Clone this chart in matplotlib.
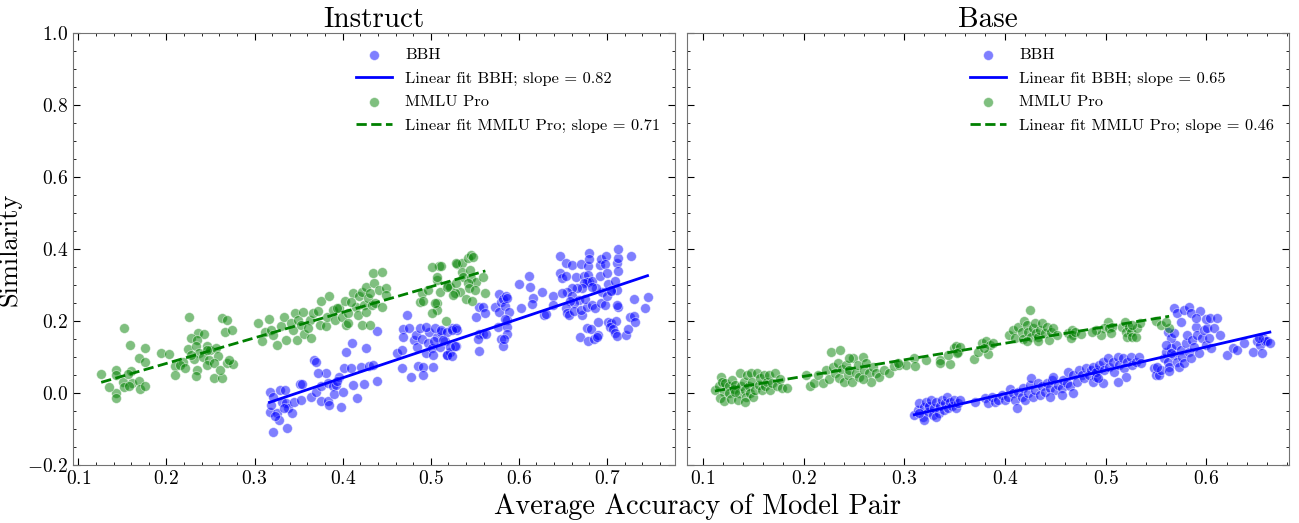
import numpy as np
import matplotlib.pyplot as plt
from matplotlib.ticker import AutoMinorLocator

plt.rcParams['font.family'] = 'cmr10'
plt.rcParams['mathtext.fontset'] = 'cm'
plt.rcParams['axes.formatter.use_mathtext'] = True

# (avg accuracy, similarity) per model pair
inst_mmlu = [
    (0.126, 0.053), (0.152, 0.181), (0.143, 0.064), (0.143, 0.050), (0.160, 0.061),
    (0.159, 0.133), (0.169, 0.098), (0.176, 0.124), (0.176, 0.085), (0.151, 0.031),
    (0.161, 0.027), (0.169, 0.034), (0.170, 0.010), (0.176, 0.019), (0.152, 0.016),
    (0.143, 0.001), (0.143, -0.015), (0.135, 0.016), (0.158, 0.018), (0.156, 0.053),
    (0.194, 0.112), (0.203, 0.108), (0.210, 0.076), (0.210, 0.050), (0.226, 0.210),
    (0.236, 0.166), (0.243, 0.163), (0.228, 0.154), (0.235, 0.147), (0.224, 0.121),
    (0.234, 0.131), (0.237, 0.110), (0.246, 0.131), (0.250, 0.119), (0.256, 0.124),
    (0.231, 0.094), (0.241, 0.101), (0.248, 0.092), (0.259, 0.103), (0.219, 0.087),
    (0.215, 0.078), (0.221, 0.069), (0.235, 0.064), (0.246, 0.078), (0.254, 0.082),
    (0.234, 0.047), (0.254, 0.041), (0.263, 0.041), (0.261, 0.064), (0.269, 0.082),
    (0.276, 0.081), (0.271, 0.092), (0.263, 0.207), (0.269, 0.203), (0.266, 0.170),
    (0.275, 0.175), (0.246, 0.119), (0.228, 0.106),
    (0.304, 0.195), (0.316, 0.206), (0.312, 0.170), (0.309, 0.143), (0.319, 0.175),
    (0.321, 0.161), (0.326, 0.133), (0.330, 0.186), (0.333, 0.210), (0.336, 0.147),
    (0.341, 0.195), (0.344, 0.175), (0.346, 0.221), (0.349, 0.203), (0.348, 0.147),
    (0.353, 0.189), (0.355, 0.226), (0.356, 0.164), (0.363, 0.203), (0.364, 0.152),
    (0.361, 0.180), (0.366, 0.221), (0.372, 0.229), (0.374, 0.189), (0.376, 0.256),
    (0.381, 0.186), (0.385, 0.268), (0.382, 0.210), (0.389, 0.231), (0.391, 0.203),
    (0.396, 0.235), (0.399, 0.210), (0.403, 0.255), (0.404, 0.189), (0.406, 0.221),
    (0.412, 0.277), (0.415, 0.240), (0.419, 0.268), (0.417, 0.217), (0.422, 0.281),
    (0.424, 0.244), (0.426, 0.226), (0.429, 0.263), (0.426, 0.295), (0.431, 0.277),
    (0.436, 0.305), (0.433, 0.244), (0.437, 0.249), (0.435, 0.334), (0.445, 0.337),
    (0.441, 0.286), (0.449, 0.291), (0.445, 0.240), (0.449, 0.272), (0.422, 0.189),
    (0.431, 0.189), (0.410, 0.254), (0.406, 0.194), (0.394, 0.235),
    (0.509, 0.353), (0.512, 0.353), (0.507, 0.314), (0.510, 0.281), (0.507, 0.249),
    (0.507, 0.231), (0.517, 0.201), (0.520, 0.300), (0.522, 0.295), (0.530, 0.358),
    (0.536, 0.362), (0.542, 0.374), (0.546, 0.383), (0.548, 0.377), (0.535, 0.337),
    (0.537, 0.323), (0.544, 0.342), (0.546, 0.319), (0.551, 0.309), (0.542, 0.305),
    (0.543, 0.291), (0.550, 0.286), (0.533, 0.281), (0.527, 0.277), (0.559, 0.323),
    (0.562, 0.279), (0.540, 0.260), (0.547, 0.256), (0.529, 0.305),
    (0.488, 0.254), (0.490, 0.277), (0.505, 0.249), (0.501, 0.223), (0.507, 0.323),
    (0.518, 0.295), (0.497, 0.286), (0.529, 0.360), (0.525, 0.272), (0.501, 0.351),
    (0.491, 0.256),
]

inst_bbh = [
    (0.317, 0.004), (0.321, -0.010), (0.329, 0.008), (0.335, 0.008), (0.318, -0.052),
    (0.325, -0.057), (0.328, -0.075), (0.319, -0.033), (0.331, -0.024), (0.336, -0.029),
    (0.338, -0.043), (0.343, -0.057), (0.345, -0.024), (0.334, -0.043), (0.321, -0.108),
    (0.337, -0.098), (0.323, -0.064), (0.353, -0.019), (0.352, 0.025),
    (0.367, 0.092), (0.370, 0.085), (0.364, -0.010), (0.370, 0.004), (0.375, -0.022),
    (0.383, -0.021), (0.385, -0.033), (0.376, 0.018), (0.381, 0.055), (0.383, 0.027),
    (0.389, 0.018), (0.390, -0.004), (0.392, 0.022), (0.396, 0.045), (0.398, -0.038),
    (0.400, 0.004), (0.402, 0.069), (0.404, 0.115), (0.409, 0.070), (0.412, 0.022),
    (0.411, 0.138), (0.416, -0.015), (0.421, 0.073), (0.424, 0.024), (0.427, 0.124),
    (0.430, 0.075), (0.435, 0.078), (0.439, 0.033), (0.439, 0.172), (0.354, 0.025),
    (0.394, 0.034), (0.372, 0.056),
    (0.462, 0.110), (0.467, 0.119), (0.467, 0.069), (0.478, 0.045), (0.469, 0.177),
    (0.473, 0.217), (0.475, 0.180), (0.469, 0.156), (0.481, 0.147), (0.483, 0.161),
    (0.484, 0.129), (0.488, 0.180), (0.490, 0.149), (0.486, 0.075), (0.491, 0.071),
    (0.491, 0.050), (0.495, 0.110), (0.497, 0.138), (0.498, 0.170), (0.501, 0.124),
    (0.503, 0.106), (0.507, 0.156), (0.510, 0.129), (0.512, 0.170), (0.516, 0.143),
    (0.518, 0.106), (0.522, 0.115), (0.524, 0.180), (0.529, 0.131), (0.530, 0.175),
    (0.495, 0.184), (0.505, 0.180), (0.502, 0.073), (0.504, 0.143), (0.512, 0.175),
    (0.518, 0.170), (0.524, 0.175), (0.529, 0.180), (0.514, 0.147), (0.522, 0.129),
    (0.528, 0.131), (0.518, 0.106), (0.524, 0.103),
    (0.551, 0.212), (0.555, 0.240), (0.559, 0.240), (0.561, 0.221), (0.555, 0.164),
    (0.559, 0.164), (0.563, 0.164), (0.554, 0.149), (0.555, 0.117), (0.573, 0.240),
    (0.577, 0.275), (0.580, 0.254), (0.578, 0.226), (0.582, 0.260), (0.584, 0.242),
    (0.585, 0.269), (0.587, 0.263), (0.589, 0.226), (0.586, 0.203), (0.584, 0.205),
    (0.576, 0.182), (0.587, 0.182), (0.586, 0.164), (0.580, 0.149), (0.582, 0.131),
    (0.583, 0.149), (0.600, 0.302), (0.612, 0.325), (0.613, 0.293), (0.602, 0.237),
    (0.616, 0.263), (0.615, 0.246), (0.626, 0.281), (0.628, 0.217), (0.631, 0.219),
    (0.639, 0.269), (0.639, 0.244),
    (0.647, 0.381), (0.653, 0.362), (0.660, 0.356), (0.670, 0.357), (0.678, 0.353),
    (0.680, 0.388), (0.680, 0.372), (0.692, 0.356), (0.693, 0.371), (0.699, 0.381),
    (0.698, 0.358), (0.711, 0.360), (0.712, 0.374), (0.712, 0.400), (0.713, 0.340),
    (0.727, 0.381), (0.647, 0.334), (0.649, 0.319), (0.654, 0.325), (0.665, 0.323),
    (0.674, 0.325), (0.679, 0.328), (0.680, 0.309), (0.677, 0.309), (0.674, 0.305),
    (0.683, 0.311), (0.692, 0.325), (0.700, 0.332), (0.701, 0.303), (0.709, 0.312),
    (0.711, 0.286), (0.704, 0.286), (0.694, 0.281), (0.688, 0.291), (0.683, 0.295),
    (0.672, 0.291), (0.666, 0.291), (0.660, 0.291), (0.655, 0.281), (0.649, 0.277),
    (0.660, 0.268), (0.668, 0.258), (0.663, 0.251), (0.658, 0.256), (0.653, 0.235),
    (0.655, 0.223), (0.657, 0.217), (0.663, 0.229), (0.672, 0.217), (0.670, 0.231),
    (0.677, 0.240), (0.675, 0.260), (0.683, 0.244), (0.686, 0.235), (0.693, 0.249),
    (0.698, 0.244), (0.700, 0.268), (0.705, 0.284), (0.712, 0.240), (0.711, 0.244),
    (0.731, 0.260), (0.746, 0.266), (0.743, 0.235), (0.690, 0.198), (0.701, 0.198),
    (0.704, 0.194), (0.710, 0.201), (0.703, 0.182), (0.707, 0.177), (0.709, 0.166),
    (0.711, 0.158), (0.677, 0.180), (0.682, 0.178), (0.669, 0.155), (0.679, 0.144),
    (0.685, 0.149), (0.690, 0.161), (0.689, 0.155), (0.722, 0.161), (0.724, 0.177),
    (0.726, 0.210), (0.731, 0.214), (0.732, 0.198),
]

base_mmlu = [
    (0.112, 0.008), (0.116, 0.018), (0.118, 0.044), (0.119, 0.031), (0.121, 0.004),
    (0.122, 0.027), (0.117, -0.015), (0.121, -0.022), (0.126, 0.018), (0.126, -0.001),
    (0.129, 0.036), (0.131, 0.010), (0.128, -0.018), (0.132, 0.022), (0.136, -0.001),
    (0.135, -0.019), (0.137, 0.055), (0.138, 0.018), (0.141, 0.031), (0.142, 0.008),
    (0.143, -0.012), (0.144, 0.050), (0.146, 0.018), (0.147, -0.001), (0.148, 0.055),
    (0.149, 0.031), (0.150, -0.012), (0.152, 0.008), (0.154, 0.055), (0.156, 0.022),
    (0.157, 0.041), (0.159, 0.008), (0.161, 0.050), (0.162, 0.018), (0.164, 0.031),
    (0.166, 0.050), (0.167, 0.008), (0.169, 0.027), (0.172, 0.055), (0.174, 0.018),
    (0.177, 0.038), (0.179, 0.013), (0.184, 0.013), (0.142, -0.024), (0.132, 0.004),
    (0.202, 0.050), (0.206, 0.019), (0.210, 0.029), (0.214, 0.050), (0.219, 0.027),
    (0.222, 0.064), (0.227, 0.115), (0.236, 0.119), (0.225, 0.038), (0.229, 0.073),
    (0.231, 0.055), (0.234, 0.082), (0.235, 0.041), (0.238, 0.066), (0.240, 0.031),
    (0.242, 0.078), (0.244, 0.050), (0.245, 0.064), (0.248, 0.031), (0.249, 0.096),
    (0.252, 0.055), (0.254, 0.078), (0.255, 0.045), (0.259, 0.101), (0.260, 0.064),
    (0.262, 0.084), (0.265, 0.055), (0.269, 0.073), (0.272, 0.055), (0.275, 0.045),
    (0.280, 0.064), (0.285, 0.055), (0.290, 0.075), (0.295, 0.078), (0.302, 0.078),
    (0.310, 0.096), (0.311, 0.075), (0.322, 0.092), (0.335, 0.092), (0.335, 0.082),
    (0.267, 0.031), (0.259, 0.038), (0.245, 0.096),
    (0.294, 0.084), (0.345, 0.081), (0.343, 0.106), (0.349, 0.124), (0.351, 0.131),
    (0.353, 0.115), (0.355, 0.129), (0.352, 0.110), (0.369, 0.094), (0.373, 0.115),
    (0.377, 0.138), (0.381, 0.143), (0.383, 0.108), (0.385, 0.133), (0.388, 0.138),
    (0.379, 0.124), (0.404, 0.161), (0.408, 0.175), (0.410, 0.152), (0.413, 0.184),
    (0.417, 0.170), (0.419, 0.201), (0.418, 0.149), (0.422, 0.189), (0.423, 0.170),
    (0.425, 0.231), (0.426, 0.155), (0.428, 0.180), (0.430, 0.194), (0.431, 0.166),
    (0.433, 0.156), (0.435, 0.175), (0.437, 0.194), (0.440, 0.166), (0.442, 0.184),
    (0.444, 0.147), (0.446, 0.170), (0.448, 0.180), (0.452, 0.161), (0.433, 0.143),
    (0.422, 0.143), (0.463, 0.166), (0.467, 0.175), (0.468, 0.161), (0.466, 0.152),
    (0.470, 0.170), (0.475, 0.163),
    (0.502, 0.198), (0.498, 0.180), (0.495, 0.161), (0.503, 0.180), (0.506, 0.184),
    (0.505, 0.166), (0.516, 0.184), (0.519, 0.198), (0.520, 0.170), (0.523, 0.184),
    (0.521, 0.156), (0.525, 0.170), (0.526, 0.156), (0.530, 0.156), (0.531, 0.180),
    (0.534, 0.194), (0.526, 0.189), (0.550, 0.200), (0.555, 0.189), (0.563, 0.180),
    (0.560, 0.198), (0.490, 0.175), (0.486, 0.170),
]

base_bbh = [
    (0.310, -0.061), (0.314, -0.047), (0.315, -0.029), (0.319, -0.066), (0.320, -0.038),
    (0.322, -0.024), (0.324, -0.052), (0.325, -0.036), (0.327, -0.019), (0.329, -0.061),
    (0.330, -0.043), (0.332, -0.024), (0.334, -0.057), (0.335, -0.036), (0.337, -0.019),
    (0.339, -0.047), (0.340, -0.029), (0.342, -0.012), (0.343, -0.043), (0.345, -0.024),
    (0.347, -0.036), (0.349, -0.019), (0.351, -0.043), (0.353, -0.029), (0.355, -0.019),
    (0.320, -0.075), (0.332, -0.066), (0.315, -0.057),
    (0.370, -0.024), (0.380, -0.015), (0.383, -0.029), (0.387, -0.010), (0.390, -0.024),
    (0.393, -0.019), (0.397, -0.006), (0.400, -0.019), (0.403, -0.010), (0.405, 0.010),
    (0.408, -0.001), (0.410, -0.019), (0.412, -0.043), (0.413, 0.004), (0.417, -0.010),
    (0.418, 0.013), (0.420, -0.019), (0.423, -0.001), (0.425, 0.022), (0.426, 0.041),
    (0.428, -0.010), (0.430, 0.008), (0.433, 0.027), (0.435, -0.006), (0.437, 0.018),
    (0.440, 0.004), (0.442, 0.027), (0.445, 0.013), (0.447, 0.036), (0.448, 0.045),
    (0.450, 0.008), (0.453, 0.022), (0.457, 0.013), (0.458, 0.036), (0.462, 0.027),
    (0.463, 0.059), (0.465, 0.018), (0.468, 0.050), (0.472, 0.031), (0.473, 0.064),
    (0.476, 0.050), (0.478, 0.041), (0.480, 0.069), (0.483, 0.050), (0.485, 0.064),
    (0.487, 0.031), (0.490, 0.045), (0.492, 0.064), (0.468, -0.001), (0.457, -0.006),
    (0.445, -0.010),
    (0.487, 0.073), (0.490, 0.059), (0.493, 0.078), (0.497, 0.087), (0.498, 0.064),
    (0.502, 0.096), (0.503, 0.073), (0.507, 0.087), (0.508, 0.059), (0.512, 0.101),
    (0.513, 0.078), (0.517, 0.096), (0.518, 0.069), (0.520, 0.045), (0.521, 0.087),
    (0.525, 0.101), (0.526, 0.078), (0.530, 0.087), (0.533, 0.101), (0.535, 0.082),
    (0.512, 0.031), (0.497, 0.027), (0.492, 0.041),
    (0.548, 0.069), (0.550, 0.050), (0.553, 0.050), (0.555, 0.064), (0.558, 0.096),
    (0.560, 0.115), (0.562, 0.087), (0.563, 0.073), (0.563, 0.061), (0.565, 0.124),
    (0.568, 0.106), (0.570, 0.133), (0.571, 0.087), (0.573, 0.073), (0.575, 0.119),
    (0.576, 0.101), (0.578, 0.082), (0.580, 0.138), (0.581, 0.161), (0.583, 0.115),
    (0.585, 0.096), (0.586, 0.147), (0.588, 0.129), (0.590, 0.184), (0.591, 0.161),
    (0.593, 0.110), (0.596, 0.152), (0.598, 0.175), (0.600, 0.133), (0.601, 0.180),
    (0.603, 0.152), (0.605, 0.124), (0.608, 0.180), (0.613, 0.161), (0.568, 0.235),
    (0.571, 0.221), (0.578, 0.231), (0.583, 0.240), (0.585, 0.221), (0.594, 0.228),
    (0.575, 0.198), (0.590, 0.207), (0.600, 0.205), (0.604, 0.209), (0.562, 0.170),
    (0.565, 0.152), (0.568, 0.166), (0.560, 0.133), (0.551, 0.073), (0.611, 0.207),
    (0.565, 0.110),
    (0.620, 0.106), (0.626, 0.124), (0.630, 0.119), (0.637, 0.138), (0.646, 0.115),
    (0.650, 0.143), (0.653, 0.133), (0.655, 0.110), (0.656, 0.152), (0.658, 0.143),
    (0.660, 0.143), (0.663, 0.138), (0.652, 0.152),
]

panel_titles = ['Instruct', 'Base']
bbh_data = [inst_bbh, base_bbh]
mmlu_data = [inst_mmlu, base_mmlu]
# slope, intercept of the linear fits
bbh_fit = [(0.82, -0.286), (0.65, -0.262)]
mmlu_fit = [(0.71, -0.060), (0.46, -0.046)]
xlims = [(0.094, 0.7775), (0.084, 0.682)]

fig, axes = plt.subplots(1, 2, figsize=(12.99, 5.23), dpi=100, sharey=True)
fig.subplots_adjust(left=0.0562, right=0.9923, top=0.937, bottom=0.111, wspace=0.019)

for i, ax in enumerate(axes):
    bx, by = np.array(bbh_data[i]).T
    mx, my = np.array(mmlu_data[i]).T

    ax.scatter(bx, by, s=50, color='blue', alpha=0.5, edgecolors='white',
               linewidths=0.6, label='BBH', zorder=2)
    a, b = bbh_fit[i]
    xs = np.array([bx.min(), bx.max()])
    ax.plot(xs, a * xs + b, color='blue', lw=2,
            label=f'Linear fit BBH; slope = {a:.2f}', zorder=3)

    ax.scatter(mx, my, s=50, color='green', alpha=0.5, edgecolors='white',
               linewidths=0.6, label='MMLU Pro', zorder=2)
    a, b = mmlu_fit[i]
    xs = np.array([mx.min(), mx.max()])
    ax.plot(xs, a * xs + b, color='green', lw=2, ls='--',
            label=f'Linear fit MMLU Pro; slope = {a:.2f}', zorder=3)

    ax.set_xlim(*xlims[i])
    ax.set_ylim(-0.2, 1.0)
    ax.set_title(panel_titles[i], fontsize=21, pad=4)
    ax.xaxis.set_minor_locator(AutoMinorLocator())
    ax.yaxis.set_minor_locator(AutoMinorLocator())
    ax.tick_params(which='both', direction='in', top=True, right=True, labelsize=14)
    ax.tick_params(which='major', length=5)
    ax.tick_params(which='minor', length=2.5)
    for sp in ax.spines.values():
        sp.set_color('0.45')
    ax.legend(loc='upper right', frameon=False, fontsize=11.8, handlelength=2.2,
              borderaxespad=0.5, labelspacing=0.55)

axes[1].tick_params(labelleft=False)
axes[0].set_ylabel('Similarity', fontsize=19)
fig.text(0.537, 0.005, 'Average Accuracy of Model Pair', fontsize=20.5,
         ha='center', va='bottom')

fig.savefig('out.png', dpi=100)
